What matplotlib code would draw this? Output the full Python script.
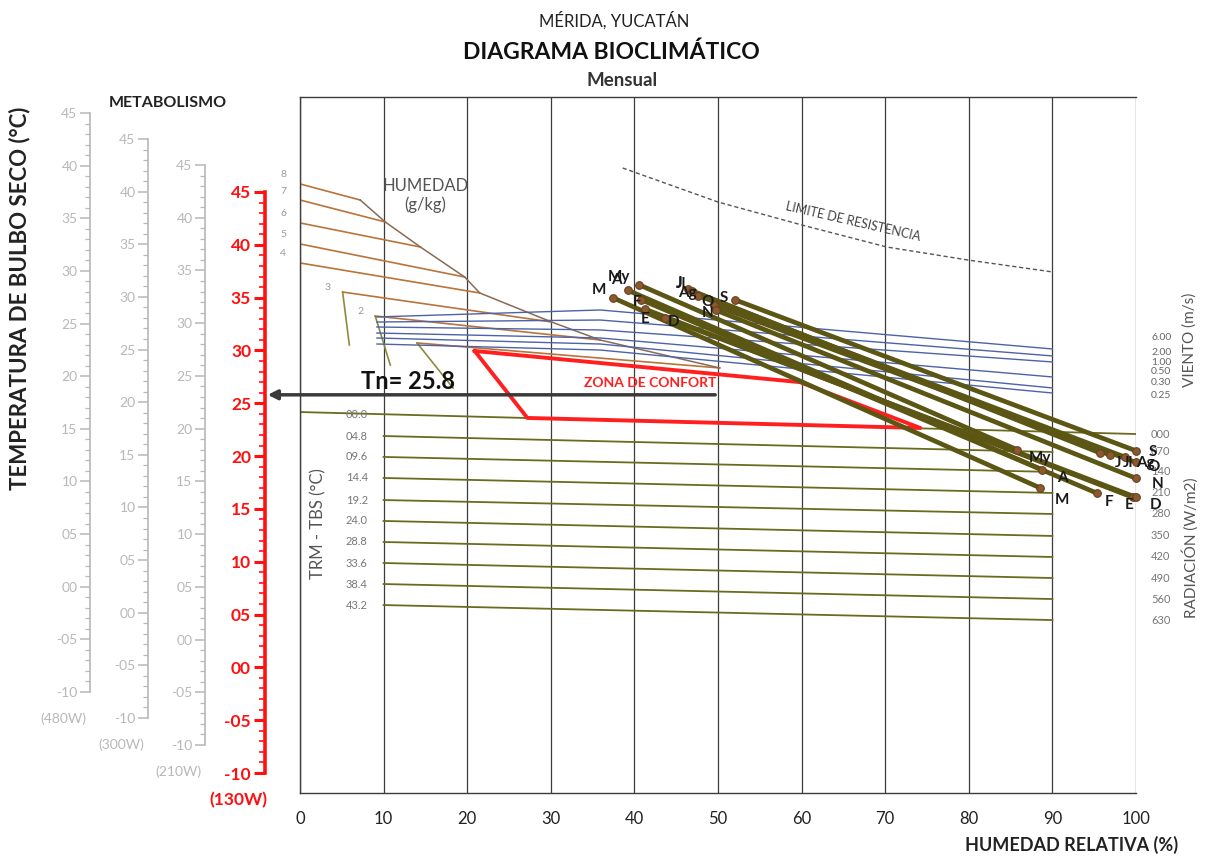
import matplotlib
matplotlib.use('Agg')
import matplotlib.pyplot as plt
from matplotlib.ticker import MultipleLocator, FuncFormatter

plt.rcParams['font.family'] = ['Lato', 'DejaVu Sans']

# ---------------- data ----------------
rh_ticks = [0, 10, 20, 30, 40, 50, 60, 70, 80, 90, 100]

months = ['E', 'F', 'M', 'A', 'My', 'J', 'Jl', 'Ag', 'S', 'O', 'N', 'D']
rh_start = [41.3, 40.8, 37.4, 39.2, 40.6, 46.4, 46.9, 47.6, 52.0, 49.5, 49.8, 43.7]
t_start = [33.9, 34.8, 35.0, 35.7, 36.2, 35.8, 35.6, 35.2, 34.8, 34.3, 33.8, 33.1]
rh_end = [99.6, 95.3, 88.5, 88.8, 85.8, 95.7, 96.9, 98.7, 100.0, 100.0, 100.0, 100.0]
t_end = [16.1, 16.5, 17.0, 18.7, 20.6, 20.3, 20.1, 19.9, 20.5, 19.4, 17.9, 16.1]

# humidity (g/kg) lines
hum_labels = ['8', '7', '6', '5', '4', '3', '2', '']
hum_rh0 = [0, 0, 0, 0, 0, 5.1, 9.0, 14.0]
hum_t0 = [45.76, 44.24, 42.07, 40.08, 38.28, 35.53, 33.26, 30.71]
hum_rh1 = [7.2, 10.2, 14.4, 19.7, 21.5, 30.1, 35.9, 50.2]
hum_t1 = [44.24, 42.16, 39.79, 36.95, 35.44, 32.69, 30.99, 28.34]
desc_rh = [5.9, 10.8, 18.3]
desc_t = [30.52, 28.62, 26.45]

# wind lines (m/s)
wind_labels = ['6.00', '2.00', '1.00', '0.50', '0.30', '0.25']
wind_rh = [9.2, 35.9, 90.0]
wind_t = [[33.17, 33.83, 30.14],
          [32.69, 32.88, 29.48],
          [32.22, 31.94, 28.91],
          [31.65, 31.18, 27.49],
          [31.18, 30.61, 26.45],
          [30.61, 30.04, 25.97]]
wind_label_t = [31.27, 29.85, 28.90, 27.96, 27.01, 25.69]

# radiation lines (TRM - TBS)
trm_labels = ['00.0', '04.8', '09.6', '14.4', '19.2', '24.0', '28.8', '33.6', '38.4', '43.2']
rad_labels = ['000', '070', '140', '210', '280', '350', '420', '490', '560', '630']
rad_rh0 = [0, 10, 10, 10, 10, 10, 10, 10, 10, 10]
rad_rh1 = [100, 90, 90, 90, 90, 90, 90, 90, 90, 90]
rad_t0 = [24.17, 21.90, 19.92, 17.93, 15.84, 13.86, 11.87, 9.88, 7.89, 5.90]
rad_t1 = [22.09, 20.39, 18.50, 16.51, 14.52, 12.44, 10.45, 8.46, 6.47, 4.48]

# comfort zone
comfort_rh = [20.9, 59.8, 74.2, 27.2]
comfort_t = [29.95, 27.0, 22.66, 23.61]

# thermal neutrality
tn = 25.8

# resistance limit
lim_rh = [38.6, 50.0, 60.0, 70.2, 79.9, 90.0]
lim_t = [47.27, 44.05, 41.88, 39.79, 38.56, 37.43]

# metabolism scales
scale_ticks = list(range(-10, 46, 5))
scale_names = ['(480W)', '(300W)', '(210W)', '(130W)']

# ---------------- layout ----------------
W, H = 1208, 859
fig = plt.figure(figsize=(W / 100, H / 100), dpi=100)
fig.patch.set_facecolor('white')


def fx(px):
    return px / W


def fy(py):
    return 1 - py / H


ax = fig.add_axes([fx(300), fy(793), (1136 - 300) / W, (793 - 97) / H])
ax.set_xlim(0, 100)
ax.set_ylim(-11.89, 53.99)
ax.set_yticks([])
ax.set_xticks(rh_ticks)
ax.tick_params(axis='x', length=0, pad=13, labelsize=12, labelcolor='#222222')
ax.grid(axis='x', color='#3c3c3c', lw=0.9)
ax.spines['right'].set_visible(False)
for s in ['left', 'top', 'bottom']:
    ax.spines[s].set_color('#3c3c3c')
    ax.spines[s].set_linewidth(1.0)
ax.set_axisbelow(True)

# humidity lines
for i in range(len(hum_labels)):
    ax.plot([hum_rh0[i], hum_rh1[i]], [hum_t0[i], hum_t1[i]], color='#b8743a', lw=1.2, zorder=2)
ax.plot(hum_rh1, hum_t1, color='#8a6a52', lw=1.1, zorder=2)
for j, i in enumerate([5, 6, 7]):
    ax.plot([hum_rh0[i], desc_rh[j]], [hum_t0[i], desc_t[j]], color='#8c8a3c', lw=1.2, zorder=2)
for i, lab in enumerate(hum_labels[:5]):
    ax.text(-2.0, hum_t0[i] + 0.85, lab, fontsize=7.5, color='#9a9a9a', ha='center', va='center', clip_on=False)
ax.text(3.3, 36.0, '3', fontsize=7.5, color='#9a9a9a', ha='center', va='center')
ax.text(7.2, 33.7, '2', fontsize=7.5, color='#9a9a9a', ha='center', va='center')
ax.text(15.0, 44.7, 'HUMEDAD\n(g/kg)', fontsize=12, color='#555555', ha='center', va='center', linespacing=1.2)

# wind lines
for i, lab in enumerate(wind_labels):
    ax.plot(wind_rh, wind_t[i], color='#4d62a8', lw=1.0, zorder=2)
    ax.text(101.8, wind_label_t[i], lab, fontsize=7.5, color='#666666', ha='left', va='center', clip_on=False)

# radiation lines
for i in range(len(trm_labels)):
    ax.plot([rad_rh0[i], rad_rh1[i]], [rad_t0[i], rad_t1[i]], color='#6b6b20', lw=1.3, zorder=2)
    ax.text(6.8, rad_t0[i] if i else rad_t0[i] - 0.2, trm_labels[i], fontsize=8, color='#777777',
            ha='center', va='center')
    ax.text(101.8, rad_t1[i], rad_labels[i], fontsize=8, color='#777777', ha='left', va='center', clip_on=False)

# comfort zone
ax.plot(comfort_rh + comfort_rh[:1], comfort_t + comfort_t[:1], color='#ff1f1f', lw=2.8, zorder=3)
ax.text(41.9, 26.9, 'ZONA DE CONFORT', fontsize=10, color='#ff1f1f', fontweight='bold', ha='center',
        va='center', zorder=3)

# Tn arrow
ax.annotate('', xy=(-4.2, tn), xytext=(50, tn),
            arrowprops=dict(arrowstyle='-|>', color='#3a3a3a', lw=2.5, mutation_scale=14),
            annotation_clip=False, zorder=4)
ax.text(7.3, 27.1, f'Tn= {tn}', fontsize=17, fontweight='bold', color='#111111', ha='left', va='center')

# resistance limit
ax.plot(lim_rh, lim_t, color='#555555', lw=1.0, ls=(0, (3, 2)), zorder=2)
ax.text(66.2, 42.2, 'LIMITE DE RESISTENCIA', fontsize=9, color='#444444', rotation=-13,
        ha='center', va='center', rotation_mode='anchor')

# month lines
start_off = {'E': (0, -10), 'F': (-4, -2), 'M': (-14, 8), 'A': (-11, 10), 'My': (-20, 8),
             'J': (-9, 6), 'Jl': (-11, 7), 'Ag': (-11, 3), 'S': (-11, 2), 'O': (-6, 3),
             'N': (-9, -3), 'D': (8, -4)}
end_off = {'E': (-4, -8), 'F': (12, -9), 'M': (22, -12), 'A': (20, -8), 'My': (23, -8),
           'J': (18, -10), 'Jl': (18, -8), 'Ag': (20, -6), 'S': (17, -1), 'O': (18, -5),
           'N': (22, -6), 'D': (20, -8)}
for i, m in enumerate(months):
    ax.plot([rh_start[i], rh_end[i]], [t_start[i], t_end[i]], color='#5b5614', lw=3.4,
            solid_capstyle='round', zorder=5, clip_on=False)
    ax.plot([rh_start[i], rh_end[i]], [t_start[i], t_end[i]], 'o', color='#8a5a2e', ms=5.5,
            mec='#6a4020', mew=0.8, zorder=6, clip_on=False)
    ax.annotate(m, (rh_start[i], t_start[i]), xytext=start_off[m], textcoords='offset pixels',
                fontsize=11, fontweight='bold', color='#1a1a1a', ha='center', va='center', zorder=7,
                annotation_clip=False)
    ax.annotate(m, (rh_end[i], t_end[i]), xytext=end_off[m], textcoords='offset pixels',
                fontsize=11, fontweight='bold', color='#1a1a1a', ha='center', va='center', zorder=7,
                annotation_clip=False)


# ---------------- metabolism scales ----------------
def fmt(v, pos=None):
    v = int(round(v))
    return ('-' if v < 0 else '') + f'{abs(v):02d}'


scale_geom = [(90, 113, 692), (148, 139, 718), (205, 165, 745), (265, 192, 773)]
for k, (xp, tp, bp) in enumerate(scale_geom):
    red = (k == 3)
    col = '#ff1010' if red else '#b8b8b8'
    a = fig.add_axes([fx(xp), fy(bp), 0.0005, (bp - tp) / H])
    a.set_ylim(scale_ticks[0], scale_ticks[-1])
    a.set_xticks([])
    a.patch.set_visible(False)
    for s in ['top', 'right', 'bottom']:
        a.spines[s].set_visible(False)
    a.spines['left'].set_color(col)
    a.spines['left'].set_linewidth(2.6 if red else 1.2)
    a.set_yticks(scale_ticks)
    a.yaxis.set_minor_locator(MultipleLocator(1))
    a.yaxis.set_major_formatter(FuncFormatter(fmt))
    a.tick_params(axis='y', which='major', length=8 if red else 7, width=2.2 if red else 1.1, color=col,
                  labelcolor=col, labelsize=12.5 if red else 10, pad=2)
    a.tick_params(axis='y', which='minor', length=4 if red else 3.5, width=1.2 if red else 0.9, color=col)
    if red:
        for t in a.get_yticklabels():
            t.set_fontweight('bold')
    fig.text(fx(xp - 27), fy(bp + 27), scale_names[k], fontsize=12.5 if red else 10,
             fontweight='bold' if red else 'normal', color=col, ha='center', va='center')

# ---------------- titles / labels ----------------
fig.text(fx(614), fy(20), 'MÉRIDA, YUCATÁN', fontsize=12, color='#222222', ha='center', va='center')
fig.text(fx(611), fy(52), 'DIAGRAMA BIOCLIMÁTICO', fontsize=16.5, fontweight='bold', color='#111111',
         ha='center', va='center')
fig.text(fx(622), fy(81), 'Mensual', fontsize=13.5, fontweight='bold', color='#333333', ha='center', va='center')
fig.text(fx(168), fy(103), 'METABOLISMO', fontsize=11.5, fontweight='bold', color='#222222', ha='center',
         va='center')
fig.text(fx(20), fy(298), 'TEMPERATURA DE BULBO SECO (°C)', fontsize=16, fontweight='bold', color='#222222',
         rotation=90, ha='center', va='center')
fig.text(fx(1178), fy(845), 'HUMEDAD RELATIVA (%)', fontsize=13, fontweight='bold', color='#222222',
         ha='right', va='center')
fig.text(fx(1190), fy(340), 'VIENTO (m/s)', fontsize=11, color='#555555', rotation=90, ha='center', va='center')
fig.text(fx(1190), fy(548), 'RADIACIÓN (W/m2)', fontsize=11, color='#555555', rotation=90, ha='center',
         va='center')
fig.text(fx(318), fy(524), 'TRM - TBS (°C)', fontsize=12, color='#555555', rotation=90, ha='center',
         va='center')

fig.savefig('out.png', dpi=100)
